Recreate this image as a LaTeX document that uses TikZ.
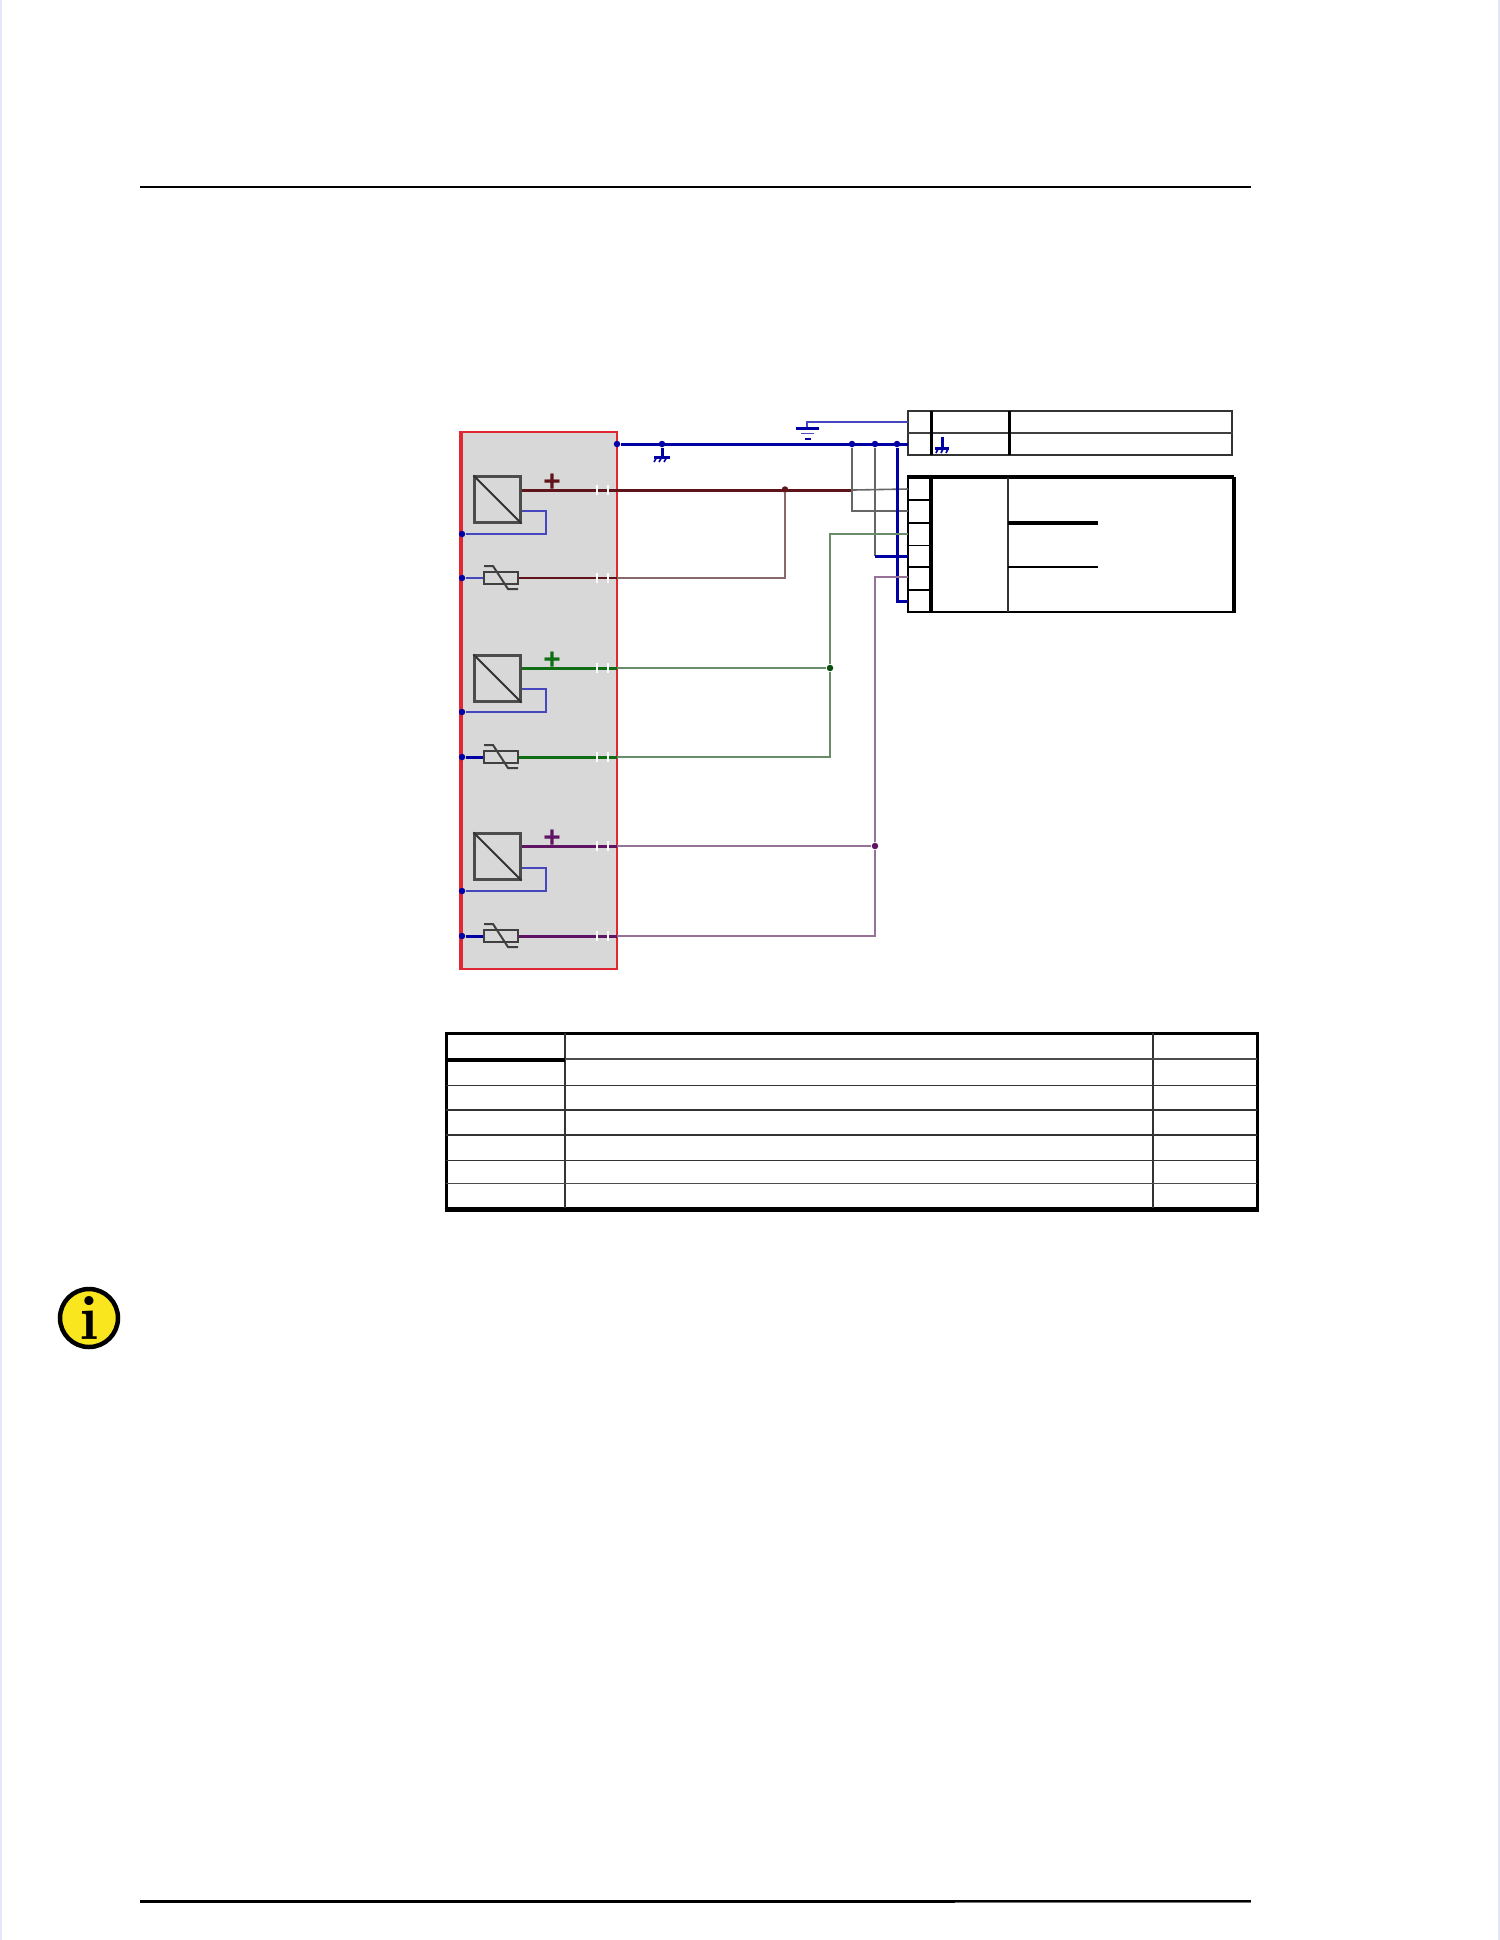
\documentclass[tikz,border=0pt]{standalone}
\usepackage{fontspec}
\usepackage{tikz}
\newfontfamily\plusfont[BoldFont={Liberation Sans Bold}]{Liberation Sans}
\definecolor{panelgrey}{RGB}{216,216,216}
\definecolor{panelred}{RGB}{225,40,50}
\definecolor{busblue}{RGB}{0,0,165}
\definecolor{loopblue}{RGB}{70,70,190}
\definecolor{wirered}{RGB}{95,20,25}
\definecolor{thinred}{RGB}{135,105,105}
\definecolor{wiregreen}{RGB}{15,110,20}
\definecolor{thingreen}{RGB}{105,140,105}
\definecolor{wirepurple}{RGB}{95,20,100}
\definecolor{thinpurple}{RGB}{150,115,150}
\definecolor{edgeblue}{RGB}{228,230,250}
\definecolor{infoyellow}{RGB}{250,230,30}
\begin{document}
\begin{tikzpicture}[x=0.1mm, y=-0.1mm,
    conv/.style={draw=black!70, line width=0.22mm, minimum size=4.6mm, inner sep=0pt},
    varistor/.style={draw=black!75, line width=0.16mm, minimum width=3.4mm, minimum height=1.2mm, inner sep=0pt},
    junction/.style={circle, inner sep=0pt, minimum size=0.65mm},
    plusmark/.style={inner sep=0pt, font=\fontsize{8.5}{8.5}\selectfont\plusfont\bfseries},
    bus/.style={draw=busblue, line width=0.3mm},
    tap/.style={draw=black!60, line width=0.16mm},
    gapmark/.style={draw=white, line width=0.2mm},
    rule/.style={draw=black, line width=0.3mm}
  ]
    \useasboundingbox (0,0) rectangle (1500,1940);

    % Page edge
    \fill[edgeblue] (0,0) rectangle (2,1940);
    \fill[edgeblue] (1498,0) rectangle (1500,1940);

    % Header and footer rules
    \coordinate (headL) at (140,187);
    \coordinate (headR) at (1251,187);
    \coordinate (footL) at (140,1901);
    \coordinate (footM) at (955,1901);
    \coordinate (footR) at (1251,1901);
    \draw[rule, line width=0.23mm] (headL) -- (headR);
    \draw[rule] (footL) -- (footM);
    \draw[black!55, line width=0.3mm] (footM) -- (footR);
    \draw[black, line width=0.2mm] (955,1900.5) -- (1251,1900.5);

    % Panel
    \node[draw=panelred, fill=panelgrey, line width=0.18mm, minimum width=15.5mm, minimum height=53.7mm, inner sep=0pt] (panel) at (539.5,700.5) {};
    \draw[panelred, line width=0.4mm] (panel.north west) -- (panel.south west);

    % Converters
    \node[conv] (C1) at (497.5,499.5) {};
    \node[conv] (C2) at (497.5,678.5) {};
    \node[conv] (C3) at (497.5,856.5) {};
    \draw[black!80, line width=0.2mm] (C1.north west) -- (C1.south east);
    \draw[black!80, line width=0.2mm] (C2.north west) -- (C2.south east);
    \draw[black!80, line width=0.2mm] (C3.north west) -- (C3.south east);

    % Varistors
    \node[varistor] (V1) at (501,578) {};
    \node[varistor] (V2) at (501,757) {};
    \node[varistor] (V3) at (501,936) {};
    \draw[black!75, line width=0.2mm] (V1) ++(-17,-12) -- ++(9,0) -- ++(15,23) -- ++(10,0);
    \draw[black!75, line width=0.2mm] (V2) ++(-17,-12) -- ++(9,0) -- ++(15,23) -- ++(10,0);
    \draw[black!75, line width=0.2mm] (V3) ++(-17,-12) -- ++(9,0) -- ++(15,23) -- ++(10,0);

    % Rail junctions
    \node[junction, fill=busblue] (R1) at (462,534) {};
    \node[junction, fill=busblue] (R2) at (462,578) {};
    \node[junction, fill=busblue] (R3) at (462,712) {};
    \node[junction, fill=busblue] (R4) at (462,757) {};
    \node[junction, fill=busblue] (R5) at (462,891) {};
    \node[junction, fill=busblue] (R6) at (462,936) {};

    % Converter feedback
    \draw[loopblue, line width=0.18mm] (C1.east |- 0,511) -- (546,511) -- (546,534) -- (R1);
    \draw[loopblue, line width=0.18mm] (C2.east |- 0,689) -- (546,689) -- (546,712) -- (R3);
    \draw[loopblue, line width=0.18mm] (C3.east |- 0,868) -- (546,868) -- (546,891) -- (R5);

    % Varistor feet
    \draw[loopblue, line width=0.16mm] (R2) -- (V1);
    \draw[busblue, line width=0.3mm] (R4) -- (V2);
    \draw[busblue, line width=0.3mm] (R6) -- (V3);

    % Terminal tables
    \node[draw=black!80, line width=0.18mm, minimum width=32.4mm, minimum height=4.4mm, inner sep=0pt] (earthbox) at (1070,433) {};
    \node[draw=black, line width=0.18mm, minimum width=32.5mm, minimum height=13.4mm, inner sep=0pt] (termbox) at (1070.5,545) {};
    \draw[black, line width=0.38mm] (termbox.north west) -- (termbox.north east);
    \draw[black, line width=0.45mm] (termbox.north east) -- (termbox.south east);
    \draw[black!75, line width=0.25mm] (earthbox.west) -- (earthbox.east);
    \draw[black, line width=0.3mm] (931,411) -- (931,455);
    \draw[black, line width=0.3mm] (1009,411) -- (1009,455);
    \draw[black, line width=0.38mm] (931,478) -- (931,612);
    \draw[black!80, line width=0.14mm] (1008,478) -- (1008,612);

    % Terminals
    \coordinate (E1) at (908,422);
    \coordinate (E2) at (908,444);
    \coordinate (T1) at (908,489);
    \coordinate (T2) at (908,511);
    \coordinate (T3) at (908,534);
    \coordinate (T4) at (908,556);
    \coordinate (T5) at (908,577);
    \coordinate (T6) at (908,601);
    \draw[black, line width=0.14mm] (908,500) -- (931,500);
    \draw[black, line width=0.28mm] (908,523) -- (931,523);
    \draw[black, line width=0.14mm] (908,545.5) -- (931,545.5);
    \draw[black, line width=0.14mm] (908,567) -- (931,567);
    \draw[black, line width=0.14mm] (908,590) -- (931,590);
    \draw[black, line width=0.32mm] (1008,523) -- (1098,523);
    \draw[black, line width=0.14mm] (1008,567) -- (1098,567);

    % Earth bus
    \node[junction, fill=busblue] (B0) at (617,444) {};
    \node[junction, fill=busblue] (B1) at (662,444) {};
    \node[junction, fill=busblue] (B2) at (852,444) {};
    \node[junction, fill=busblue] (B3) at (875,444) {};
    \node[junction, fill=busblue] (B4) at (897,444) {};
    \draw[bus] (B0) -- (E2);

    % Earth symbols
    \coordinate (G1) at (662,457);
    \draw[busblue, line width=0.3mm] (B1) -- (G1);
    \draw[busblue, line width=0.3mm] (654,457) -- (670,457);
    \draw[busblue, line width=0.16mm] (657,457) -- ++(-3,5) (662,457) -- ++(-3,5) (667,457) -- ++(-3,5);
    \coordinate (G2) at (942,449);
    \draw[busblue, line width=0.3mm] (942,437) -- (G2);
    \draw[busblue, line width=0.3mm] (935,448) -- (949,448);
    \draw[busblue, line width=0.16mm] (938,449) -- ++(-2,4) (943,449) -- ++(-2,4) (948,449) -- ++(-2,4);
    \coordinate (G3) at (807,428);
    \draw[loopblue, line width=0.18mm] (G3) -- (807,422) -- (E1);
    \draw[busblue, line width=0.3mm] (796,428) -- (819,428);
    \draw[busblue!70, line width=0.14mm] (801,433.5) -- (814,433.5);
    \draw[busblue, line width=0.24mm] (805,439) -- (811,439);

    % Taps to terminal block
    \node[junction, fill=wirered] (J1) at (785,489.5) {};
    \draw[wirered, line width=0.3mm] (C1.east |- 0,490) -- (853,490);
    \draw[tap] (853,490) -- (T1);
    \draw[tap] (B2) -- (852,511) -- (T2);
    \draw[tap] (B3) -- (875,556);
    \draw[busblue, line width=0.3mm] (875,556) -- (T4);
    \draw[busblue, line width=0.3mm] (B4) -- (897,601) -- (T6);

    % Channel 1 wiring
    \draw[wirered, line width=0.16mm] (V1) -- (617,578);
    \draw[thinred, line width=0.18mm] (617,578) -- (785,578) -- (J1);
    \node[plusmark, text=wirered] (P1) at (552,483) {+};

    % Channel 2 wiring
    \node[junction, fill=wiregreen!70!black] (J2) at (830,668) {};
    \draw[wiregreen, line width=0.3mm] (C2.east |- 0,668) -- (617,668);
    \draw[thingreen, line width=0.16mm] (617,668) -- (J2);
    \draw[wiregreen, line width=0.3mm] (V2) -- (617,757);
    \draw[thingreen, line width=0.18mm] (617,757) -- (830,757) -- (J2);
    \draw[thingreen, line width=0.18mm] (J2) -- (830,534) -- (T3);
    \node[plusmark, text=wiregreen] (P2) at (552,661) {+};

    % Channel 3 wiring
    \node[junction, fill=wirepurple] (J3) at (875,846) {};
    \draw[wirepurple, line width=0.3mm] (C3.east |- 0,846) -- (617,846);
    \draw[thinpurple, line width=0.16mm] (617,846) -- (J3);
    \draw[wirepurple, line width=0.3mm] (V3) -- (617,936);
    \draw[thinpurple, line width=0.18mm] (617,936) -- (875,936) -- (J3);
    \draw[thinpurple, line width=0.18mm] (J3) -- (875,577) -- (T5);
    \node[plusmark, text=wirepurple] (P3) at (552,839) {+};

    % Breaks in the wires
    \draw[gapmark] (596.5,485) -- ++(0,10) (607.5,485) -- ++(0,10);
    \draw[gapmark] (596.5,573) -- ++(0,10) (607.5,573) -- ++(0,10);
    \draw[gapmark] (596.5,663) -- ++(0,10) (607.5,663) -- ++(0,10);
    \draw[gapmark] (596.5,752) -- ++(0,10) (607.5,752) -- ++(0,10);
    \draw[gapmark] (596.5,841) -- ++(0,10) (607.5,841) -- ++(0,10);
    \draw[gapmark] (596.5,931) -- ++(0,10) (607.5,931) -- ++(0,10);

    % Parts table
    \node[draw=black, line width=0.3mm, minimum width=81.1mm, minimum height=17.5mm, inner sep=0pt] (parts) at (851.5,1121) {};
    \draw[black, line width=0.45mm] (parts.south west) -- (parts.south east);
    \draw[black!80, line width=0.16mm] (565,1033) -- (565,1208);
    \draw[black!80, line width=0.16mm] (1153,1033) -- (1153,1208);
    \draw[black, line width=0.32mm] (446,1060) -- (565,1060);
    \draw[black!70, line width=0.16mm] (565,1059) -- (1257,1059);
    \draw[black!80, line width=0.16mm] (446,1085.5) -- (1257,1085.5);
    \draw[black!80, line width=0.16mm] (446,1110) -- (1257,1110);
    \draw[black!80, line width=0.16mm] (446,1135) -- (1257,1135);
    \draw[black!80, line width=0.16mm] (446,1160.5) -- (1257,1160.5);
    \draw[black!70, line width=0.16mm] (446,1183.5) -- (1257,1183.5);

    % Info icon
    \node[circle, draw=black, fill=infoyellow, line width=0.45mm, minimum size=5.8mm, inner sep=0pt] (info) at (89,1318) {};
    \node[inner sep=0pt, font=\fontsize{18}{18}\selectfont\bfseries] (infoi) at (info) {i};
\end{tikzpicture}
\end{document}
